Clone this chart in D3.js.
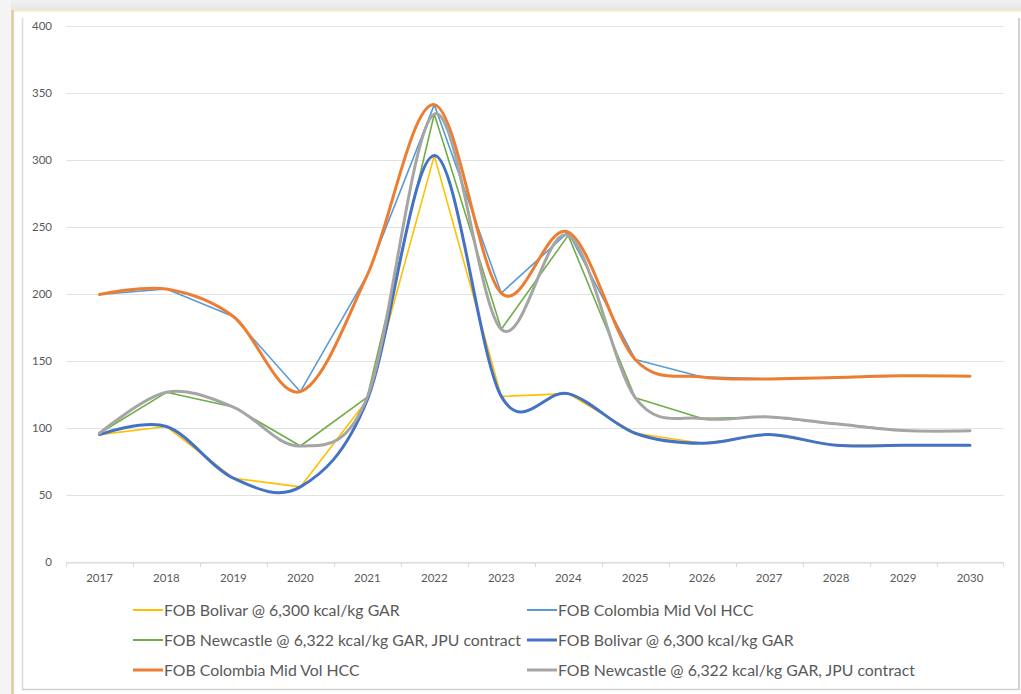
<!DOCTYPE html>
<html>
<head>
<meta charset="utf-8">
<script src="https://cdn.jsdelivr.net/npm/d3@7"></script>
<style>
  html, body { margin: 0; padding: 0; background: #ffffff; }
  svg { display: block; }
  text { font-family: "Lato", "Liberation Sans", sans-serif; fill: #595959; }
</style>
</head>
<body>
<svg id="chart" width="1021" height="694"></svg>
<script>
// ---- data ----
const years = [2017, 2018, 2019, 2020, 2021, 2022, 2023, 2024, 2025, 2026, 2027, 2028, 2029, 2030];
const yTicks = [0, 50, 100, 150, 200, 250, 300, 350, 400];
const bolivar   = [95, 101, 62.5, 56, 121, 303, 123.5, 125.5, 96, 88.5, 95, 87, 87, 87];
const colombia  = [199.5, 203.5, 183, 127, 214, 341, 200.5, 246, 151, 138, 136.5, 137.5, 138.8, 138.5];
const newcastle = [96, 126.5, 115.5, 86.5, 123, 334, 173.5, 243.5, 122.5, 107, 108.2, 103, 98, 97.8];
const seriesNames = [
  "FOB Bolivar @ 6,300 kcal/kg GAR",
  "FOB Colombia Mid Vol HCC",
  "FOB Newcastle @ 6,322 kcal/kg GAR, JPU contract",
  "FOB Bolivar @ 6,300 kcal/kg GAR",
  "FOB Colombia Mid Vol HCC",
  "FOB Newcastle @ 6,322 kcal/kg GAR, JPU contract"
];
const seriesValues = [bolivar, colombia, newcastle, bolivar, colombia, newcastle];
const seriesColors = ["#FFC000", "#5B9BD5", "#70AD47", "#4472C4", "#ED7D31", "#A5A5A5"];
const seriesSmooth = [false, false, false, true, true, true];

const svg = d3.select("#chart");

// ---- screenshot frame ----
const defs = svg.append("defs");
const g1 = defs.append("linearGradient").attr("id", "topShade").attr("x1", 0).attr("y1", 0).attr("x2", 0).attr("y2", 1);
g1.append("stop").attr("offset", "0%").attr("stop-color", "#f2f2f2");
g1.append("stop").attr("offset", "100%").attr("stop-color", "#e6e6e6");
svg.append("rect").attr("x", 0).attr("y", 0).attr("width", 1021).attr("height", 10).attr("fill", "url(#topShade)");
svg.append("rect").attr("x", 0).attr("y", 0).attr("width", 11).attr("height", 694).attr("fill", "#f4f4f4");
svg.append("line").attr("x1", 12).attr("x2", 1021).attr("y1", 10.5).attr("y2", 10.5).attr("stroke", "#f3ebbf").attr("stroke-width", 2);
svg.append("line").attr("x1", 12.5).attr("x2", 12.5).attr("y1", 10).attr("y2", 694).attr("stroke", "#d9c99b").attr("stroke-width", 2.5);
svg.append("line").attr("x1", 22.5).attr("x2", 22.5).attr("y1", 18).attr("y2", 689).attr("stroke", "#dadada").attr("stroke-width", 1.5);
svg.append("line").attr("x1", 22).attr("x2", 1019).attr("y1", 689.5).attr("y2", 689.5).attr("stroke", "#cfcfcf").attr("stroke-width", 1.5);
svg.append("line").attr("x1", 1019).attr("x2", 1019).attr("y1", 18).attr("y2", 690).attr("stroke", "#d2d2d2").attr("stroke-width", 2);

// ---- scales ----
const x = d3.scaleBand().domain(years).range([66, 1003.5]).paddingInner(0).paddingOuter(0);
const y = d3.scaleLinear().domain([0, 400]).range([562, 25.5]);
const cx = d => x(d) + x.bandwidth() / 2;

// gridlines
svg.append("g").selectAll("line").data(yTicks).join("line")
  .attr("x1", 66).attr("x2", 1003.5)
  .attr("y1", d => Math.round(y(d)) + 0.5).attr("y2", d => Math.round(y(d)) + 0.5)
  .attr("stroke", "#e2e2e2").attr("stroke-width", 1);

// y axis labels
const yAxis = d3.axisLeft(y).tickValues(yTicks).tickSize(0).tickPadding(0);
const yg = svg.append("g").attr("transform", "translate(52,0)").call(yAxis);
yg.select(".domain").remove();
yg.selectAll("text").attr("font-size", 11.5).attr("fill", "#595959").attr("font-family", "Lato, 'Liberation Sans', sans-serif");

// x axis
const xg = svg.append("g").attr("transform", "translate(0,562.5)")
  .call(d3.axisBottom(x).tickSize(0).tickPadding(11));
xg.select(".domain").attr("stroke", "#d9d9d9");
xg.selectAll("text").attr("font-size", 11.5).attr("fill", "#595959").attr("font-family", "Lato, 'Liberation Sans', sans-serif");
// category boundary tick marks
const bounds = years.map(d => x(d)).concat([x(years[years.length - 1]) + x.bandwidth()]);
svg.append("g").selectAll("line").data(bounds).join("line")
  .attr("x1", d => Math.round(d) + 0.5).attr("x2", d => Math.round(d) + 0.5)
  .attr("y1", 562).attr("y2", 567)
  .attr("stroke", "#d9d9d9");

// ---- lines ----
const straight = d3.line().x((d, i) => cx(years[i])).y(d => y(d));
const smooth = d3.line().x((d, i) => cx(years[i])).y(d => y(d)).curve(d3.curveCardinal.tension(0));
const lg = svg.append("g").attr("fill", "none").attr("stroke-linejoin", "round").attr("stroke-linecap", "round");
seriesValues.forEach((vals, i) => {
  lg.append("path")
    .attr("d", (seriesSmooth[i] ? smooth : straight)(vals))
    .attr("stroke", seriesColors[i])
    .attr("stroke-width", seriesSmooth[i] ? 3 : 1.6);
});

// ---- legend ----
const legCols = [133, 527];
const legRows = [610, 640, 670];
const leg = svg.append("g");
seriesNames.forEach((name, i) => {
  const col = i % 2, row = Math.floor(i / 2);
  const gx = legCols[col], gy = legRows[row];
  leg.append("line").attr("x1", gx).attr("x2", gx + 30).attr("y1", gy).attr("y2", gy)
    .attr("stroke", seriesColors[i]).attr("stroke-width", seriesSmooth[i] ? 3 : 2);
  leg.append("text").attr("class", "legtxt").attr("x", gx + 31).attr("y", gy).attr("dy", "0.35em")
    .attr("font-size", 15).text(name);
});
// fit legend font so "FOB Bolivar @ 6,300 kcal/kg GAR" is ~236px wide
const ref = leg.selectAll("text.legtxt").nodes()[0];
const w = ref.getComputedTextLength();
const fs = 15 * 236 / w;
leg.selectAll("text.legtxt").attr("font-size", fs.toFixed(2));
</script>
</body>
</html>
